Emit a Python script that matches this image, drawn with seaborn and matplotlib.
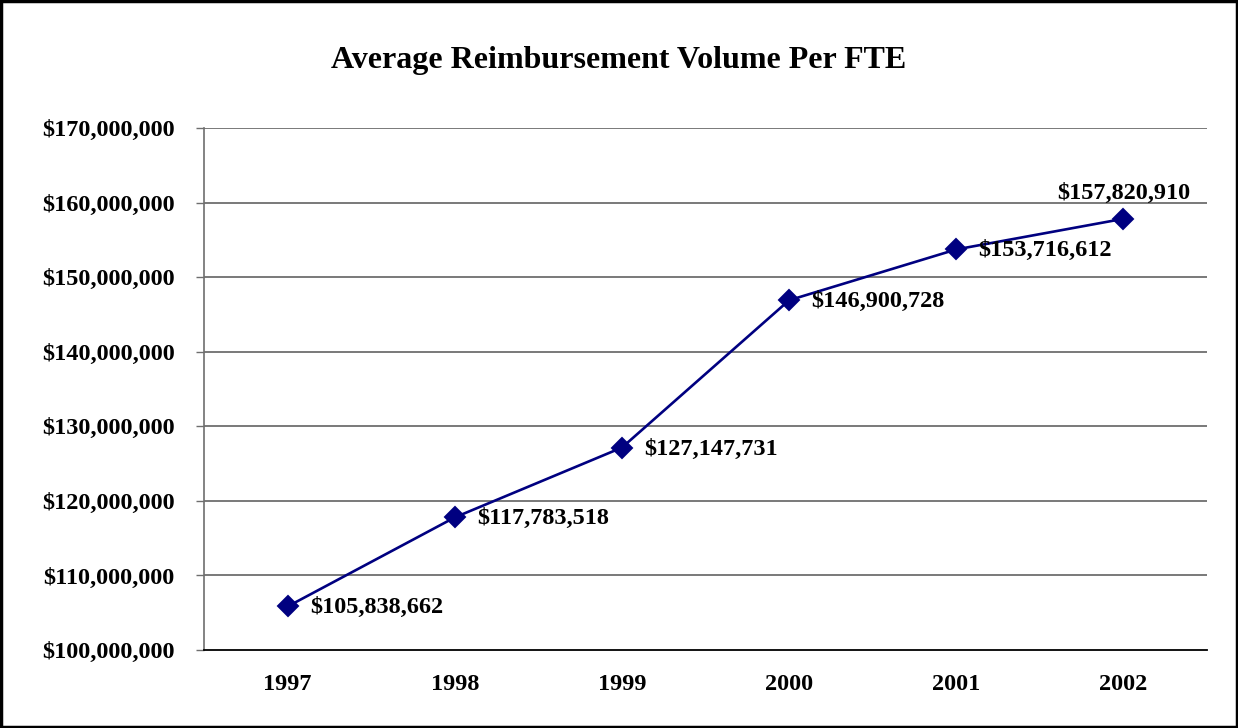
import matplotlib
matplotlib.use("Agg")
import matplotlib.pyplot as plt
import matplotlib.ticker as mticker
import pandas as pd
import seaborn as sns

sns.set_style("white")
plt.rcParams['font.family'] = ['Liberation Serif', 'DejaVu Serif']
plt.rcParams['font.weight'] = 'bold'
plt.rcParams['text.color'] = 'black'
plt.rcParams['xtick.color'] = 'black'
plt.rcParams['ytick.color'] = 'black'

years = ['1997', '1998', '1999', '2000', '2001', '2002']
volume = [105838662, 117783518, 127147731, 146900728, 153716612, 157820910]

df = pd.DataFrame({'year': years, 'volume': volume})

fig = plt.figure(figsize=(12.38, 7.28), dpi=100)
ax = fig.add_axes([0.1648, 0.1071, 0.8102, 0.7171])

# figure border
fig.add_artist(plt.Rectangle((0.001, 0.001), 0.998, 0.997, transform=fig.transFigure,
                             fill=False, edgecolor='black', linewidth=2.5))

ax.set_axisbelow(True)
for v in range(110000000, 170000001, 10000000):
    ax.axhline(v, color='#6e6e6e', linewidth=1.3, zorder=0)

sns.pointplot(data=df, x='year', y='volume', color='#000080', markers='D',
              markersize=10, linewidth=1.9, ax=ax)

ax.set_ylim(100000000, 170000000)
ax.set_xlim(-0.5, 5.5)
ax.yaxis.set_major_locator(mticker.MultipleLocator(10000000))
ax.yaxis.set_major_formatter(mticker.FuncFormatter(lambda v, p: '${:,.0f}'.format(v)))

# category labels centred, tick marks on boundaries
ax.set_xticks(range(len(years)))
ax.set_xticklabels(years)
ax.set_xticks([i - 0.5 for i in range(len(years) + 1)], minor=True)
ax.tick_params(axis='x', which='major', length=0, pad=17, labelsize=17.5, labelcolor='black')
ax.tick_params(axis='x', which='minor', length=6, width=1, color='#000000', direction='out')
ax.tick_params(axis='y', which='major', length=6, width=1, color='#6e6e6e', direction='out',
               labelsize=17.5, pad=15, left=True, labelcolor='black')

for side in ['top', 'right']:
    ax.spines[side].set_visible(False)
ax.spines['left'].set_color('#6e6e6e')
ax.spines['left'].set_linewidth(1.2)
ax.spines['bottom'].set_color('#000000')
ax.spines['bottom'].set_linewidth(1.3)

ax.set_xlabel('')
ax.set_ylabel('')

for i, v in enumerate(volume):
    label = '${:,.0f}'.format(v)
    if i == len(volume) - 1:
        ax.annotate(label, (i, v), xytext=(0, 11), textcoords='offset points',
                    ha='center', va='bottom', fontsize=17.5, fontweight='bold', color='black')
    else:
        ax.annotate(label, (i, v), xytext=(16, -1), textcoords='offset points',
                    ha='left', va='center', fontsize=17.5, fontweight='bold', color='black')

fig.text(0.5, 0.917, 'Average Reimbursement Volume Per FTE', ha='center', va='center',
         fontsize=23, fontweight='bold', color='black')

fig.savefig('out.png', dpi=100)
